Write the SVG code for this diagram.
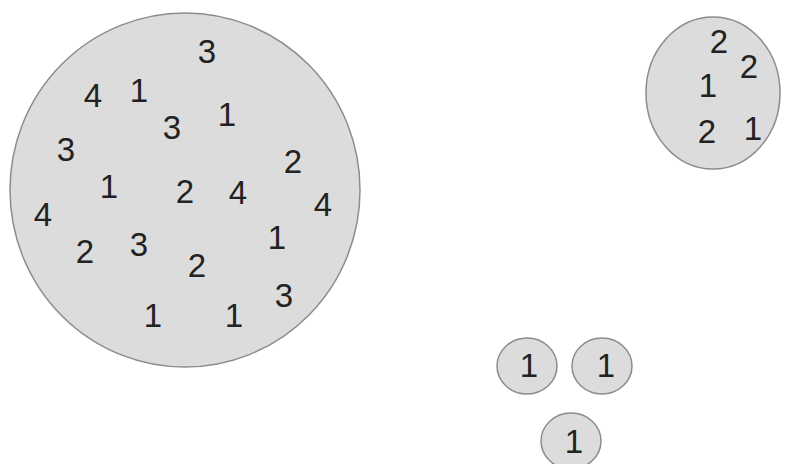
<svg xmlns="http://www.w3.org/2000/svg" width="795" height="464" viewBox="0 0 795 464">
<style>
.c{fill:#dcdcdc;stroke:#8c8c8c;stroke-width:1.5}
.t{font-family:"Liberation Sans",Arial,sans-serif;font-size:33px;fill:#222;text-anchor:middle}
</style>
<rect width="795" height="464" fill="#fff"/>
<g id="big">
<ellipse class="c" cx="185" cy="190" rx="175" ry="177"/>
<text class="t" x="207" y="63">3</text>
<text class="t" x="93" y="107">4</text>
<text class="t" x="139" y="102">1</text>
<text class="t" x="172" y="139">3</text>
<text class="t" x="227" y="126">1</text>
<text class="t" x="66" y="161">3</text>
<text class="t" x="293" y="173">2</text>
<text class="t" x="109" y="198">1</text>
<text class="t" x="185" y="203">2</text>
<text class="t" x="238" y="204">4</text>
<text class="t" x="323" y="216">4</text>
<text class="t" x="43" y="226">4</text>
<text class="t" x="85" y="263">2</text>
<text class="t" x="139" y="256">3</text>
<text class="t" x="197" y="277">2</text>
<text class="t" x="277" y="249">1</text>
<text class="t" x="284" y="307">3</text>
<text class="t" x="153" y="327">1</text>
<text class="t" x="234" y="327">1</text>
</g>
<g id="medium">
<ellipse class="c" cx="713" cy="93" rx="67" ry="76"/>
<text class="t" x="719" y="53">2</text>
<text class="t" x="749" y="78">2</text>
<text class="t" x="708" y="97">1</text>
<text class="t" x="707" y="143">2</text>
<text class="t" x="753" y="140">1</text>
</g>
<g id="small1">
<ellipse class="c" cx="527" cy="366" rx="30" ry="28"/>
<text class="t" x="529" y="377">1</text>
</g>
<g id="small2">
<ellipse class="c" cx="602" cy="366" rx="30" ry="28"/>
<text class="t" x="606" y="377">1</text>
</g>
<g id="small3">
<ellipse class="c" cx="571" cy="441" rx="30" ry="28"/>
<text class="t" x="574" y="453">1</text>
</g>
<g id="connectors"/>
</svg>
